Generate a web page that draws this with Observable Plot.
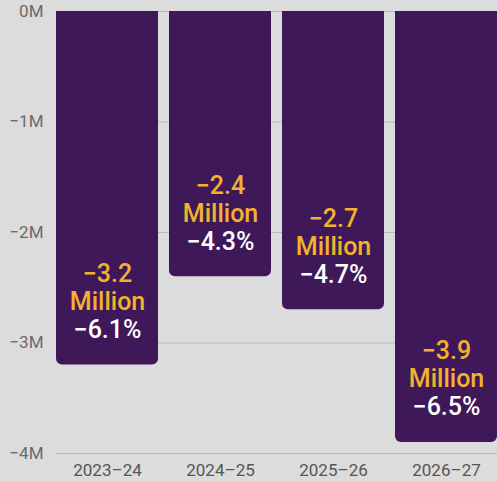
<!DOCTYPE html>
<html>
<head>
<meta charset="utf-8">
<script src="https://cdn.jsdelivr.net/npm/d3@7"></script>
<script src="https://cdn.jsdelivr.net/npm/@observablehq/plot@0.6"></script>
<style>
  html, body { margin: 0; padding: 0; background: #dcdcdc; }
  #chart svg { display: block; }
</style>
</head>
<body>
<div id="chart"></div>
<script>
const years = ["2023–24", "2024–25", "2025–26", "2026–27"];
const values = [-3.2, -2.4, -2.7, -3.9];          // millions
const millionLabels = ["−3.2", "−2.4", "−2.7", "−3.9"];
const pctLabels = ["−6.1%", "−4.3%", "−4.7%", "−6.5%"];
const yTicks = [0, -1, -2, -3, -4];

const data = years.map((year, i) => ({
  year, value: values[i], top: 0.2, m: millionLabels[i], pct: pctLabels[i]
}));

const fmt = d => d === 0 ? "0M" : `−${Math.abs(d)}M`;

const chart = Plot.plot({
  width: 497,
  height: 481,
  marginTop: 11,
  marginBottom: 28,
  marginLeft: 56,
  marginRight: 0,
  style: { background: "#dcdcdc", fontFamily: "Roboto, sans-serif" },
  x: { domain: years, paddingInner: 0.1, paddingOuter: 0, label: null },
  y: { domain: [-4, 0], label: null },
  marks: [
    Plot.ruleY(yTicks, { stroke: "#b9b9b9", strokeWidth: 1.2 }),
    Plot.barY(data, { x: "year", y1: "top", y2: "value", fill: "#3f1859", rx: 6, clip: true }),
    Plot.axisY(yTicks, { tickSize: 0, tickPadding: 13, tickFormat: fmt, fontSize: 17, color: "#6a6a6a" }),
    Plot.axisX({ tickSize: 0, tickPadding: 10, fontSize: 17, color: "#555" }),
    Plot.text(data, { x: "year", y: "value", text: "m", dy: -91, fill: "#f2b22d", fontSize: 25, fontWeight: 500 }),
    Plot.text(data, { x: "year", y: "value", text: () => "Million", dy: -63, fill: "#f2b22d", fontSize: 25, fontWeight: 500 }),
    Plot.text(data, { x: "year", y: "value", text: "pct", dy: -35, fill: "#ffffff", fontSize: 25, fontWeight: 500 })
  ]
});
document.getElementById("chart").appendChild(chart);
</script>
</body>
</html>
